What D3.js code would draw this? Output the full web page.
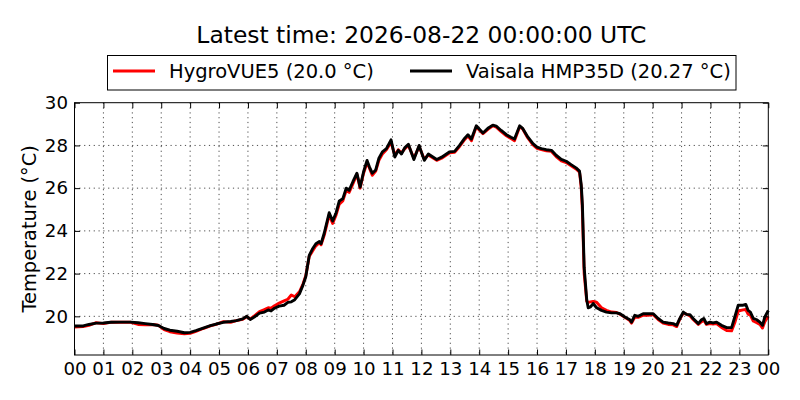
<!DOCTYPE html>
<html>
<head>
<meta charset="utf-8">
<script src="https://cdn.jsdelivr.net/npm/d3@7"></script>
<style>
	body { margin: 0; background: #fff; }
	text { font-family: "DejaVu Sans", sans-serif; fill: #000; }
</style>
</head>
<body>
<div id="chart-area"></div>
<script>

// data: hours since 00 UTC and temperature of each sensor
let hours = [0.00, 0.30, 0.50, 0.75, 1.00, 1.25, 1.60, 1.95, 2.20, 2.45, 2.70, 2.90, 3.10, 3.30, 3.55, 3.80,
	4.00, 4.20, 4.45, 4.70, 4.90, 5.15, 5.40, 5.60, 5.82, 5.96, 6.08, 6.22, 6.40, 6.57, 6.70, 6.80, 6.92,
	7.08, 7.25, 7.38, 7.50, 7.62, 7.78, 7.90, 8.00, 8.12, 8.23, 8.35, 8.47, 8.53, 8.64, 8.81, 8.93, 9.05,
	9.16, 9.28, 9.40, 9.50, 9.63, 9.77, 9.88, 10.00, 10.12, 10.20, 10.30, 10.42, 10.53, 10.65, 10.79, 10.95,
	11.08, 11.20, 11.31, 11.43, 11.55, 11.74, 11.92, 12.10, 12.24, 12.53, 12.70, 12.98, 13.15, 13.32, 13.50,
	13.61, 13.73, 13.90, 14.00, 14.13, 14.30, 14.47, 14.59, 14.76, 14.94, 15.10, 15.22, 15.40, 15.50, 15.68,
	15.86, 16.00, 16.15, 16.32, 16.50, 16.66, 16.84, 17.01, 17.18, 17.35, 17.47, 17.53, 17.57, 17.63, 17.72,
	17.77, 17.85, 17.94, 18.06, 18.23, 18.40, 18.58, 18.75, 18.87, 19.04, 19.21, 19.27, 19.38, 19.50, 19.67,
	19.85, 20.02, 20.19, 20.36, 20.54, 20.71, 20.83, 20.94, 21.06, 21.17, 21.29, 21.40, 21.58, 21.69, 21.77,
	21.86, 21.98, 22.09, 22.21, 22.38, 22.56, 22.73, 22.84, 22.96, 23.13, 23.22, 23.30, 23.38, 23.48, 23.60,
	23.71, 23.80, 23.88, 24.00];

let hygroVUE = [19.50, 19.52, 19.58, 19.70, 19.66, 19.72, 19.72, 19.72, 19.62, 19.60, 19.62, 19.58, 19.38, 19.28, 19.22, 19.18,
	19.20, 19.30, 19.43, 19.55, 19.62, 19.75, 19.72, 19.80, 19.86, 19.98, 19.88, 20.02, 20.22, 20.32, 20.40, 20.38, 20.50,
	20.62, 20.72, 20.80, 21.00, 20.92, 21.15, 21.50, 21.90, 22.80, 23.05, 23.30, 23.45, 23.35, 23.80, 24.75, 24.35, 24.75,
	25.25, 25.40, 25.90, 25.80, 26.20, 26.65, 26.00, 26.70, 27.20, 26.95, 26.60, 26.80, 27.30, 27.60, 27.80, 28.15,
	27.55, 27.80, 27.65, 27.85, 28.00, 27.40, 27.95, 27.35, 27.55, 27.30, 27.40, 27.65, 27.68, 27.95, 28.28,
	28.45, 28.22, 28.88, 28.72, 28.55, 28.75, 28.92, 28.85, 28.65, 28.45, 28.32, 28.22, 28.88, 28.78, 28.35,
	28.02, 27.86, 27.80, 27.75, 27.72, 27.48, 27.28, 27.20, 27.05, 26.90, 26.75, 26.00, 24.90, 22.00, 20.70,
	20.65, 20.68, 20.70, 20.66, 20.40, 20.28, 20.20, 20.18, 20.10, 19.95, 19.80, 19.68, 19.95, 19.95, 20.05,
	20.05, 20.08, 19.85, 19.68, 19.62, 19.60, 19.52, 19.88, 20.15, 20.10, 20.02, 19.85, 19.62, 19.75, 19.82,
	19.62, 19.66, 19.64, 19.66, 19.48, 19.34, 19.32, 19.70, 20.25, 20.30, 20.32, 20.10, 20.05, 19.78, 19.70,
	19.62, 19.45, 19.75, 20.00];

let hmp35d = [19.55, 19.55, 19.62, 19.68, 19.69, 19.72, 19.73, 19.73, 19.70, 19.66, 19.62, 19.57, 19.43, 19.35, 19.30, 19.23,
	19.25, 19.33, 19.45, 19.56, 19.64, 19.72, 19.76, 19.80, 19.88, 20.00, 19.85, 19.97, 20.15, 20.20, 20.30, 20.25, 20.38,
	20.48, 20.52, 20.65, 20.68, 20.78, 21.05, 21.45, 21.85, 22.85, 23.15, 23.40, 23.50, 23.40, 23.90, 24.85, 24.46, 24.85,
	25.40, 25.50, 26.00, 25.90, 26.30, 26.70, 26.05, 26.77, 27.30, 27.00, 26.70, 26.85, 27.40, 27.70, 27.85, 28.26,
	27.46, 27.77, 27.60, 27.90, 28.05, 27.34, 28.00, 27.30, 27.60, 27.34, 27.45, 27.70, 27.72, 28.00, 28.34,
	28.50, 28.30, 28.92, 28.77, 28.58, 28.80, 28.95, 28.90, 28.70, 28.50, 28.38, 28.30, 28.92, 28.80, 28.40,
	28.08, 27.92, 27.85, 27.80, 27.77, 27.54, 27.35, 27.26, 27.10, 26.95, 26.80, 26.15, 25.20, 22.30, 20.76,
	20.40, 20.44, 20.60, 20.40, 20.28, 20.20, 20.16, 20.16, 20.12, 19.97, 19.84, 19.73, 20.05, 20.00, 20.12,
	20.12, 20.12, 19.90, 19.73, 19.69, 19.66, 19.58, 19.90, 20.20, 20.09, 20.08, 19.90, 19.66, 19.84, 19.90,
	19.66, 19.73, 19.69, 19.73, 19.58, 19.47, 19.47, 19.97, 20.52, 20.52, 20.56, 20.28, 20.20, 19.90, 19.84,
	19.73, 19.58, 19.97, 20.27];

let seriesNames = ["HygroVUE5 (20.0 °C)", "Vaisala HMP35D (20.27 °C)"];
let seriesColors = ["#ff0000", "#000000"];
let yTicks = [20, 22, 24, 26, 28, 30];
let xTickLabels = ["00", "01", "02", "03", "04", "05", "06", "07", "08", "09", "10", "11",
	"12", "13", "14", "15", "16", "17", "18", "19", "20", "21", "22", "23", "00"];
let titleText = "Latest time: 2026-08-22 00:00:00 UTC";

let margin = {top: 102.7, right: 31.7, bottom: 45, left: 74.5};
let width = 800 - margin.left - margin.right;
let height = 400 - margin.top - margin.bottom;

let root = d3.select("#chart-area").append("svg")
	.attr("width", 800)
	.attr("height", 400);

let svg = root.append("g")
	.attr("transform", "translate(" + margin.left + "," + margin.top + ")");

// Scales
let x = d3.scaleLinear()
	.domain([0, 24])
	.range([0, width]);

let y = d3.scaleLinear()
	.domain([18.19, 30])
	.range([height, 0]);

let xTicks = d3.range(0, 25);

// dotted grid
svg.append("g").selectAll("line.vgrid")
	.data(xTicks.slice(1, -1))
	.enter().append("line")
	.attr("x1", d => x(d)).attr("x2", d => x(d))
	.attr("y1", 0).attr("y2", height)
	.attr("stroke", "#000").attr("stroke-width", 0.7)
	.attr("stroke-dasharray", "1.2,3.6");

svg.append("g").selectAll("line.hgrid")
	.data(yTicks.filter(d => d < 30))
	.enter().append("line")
	.attr("x1", 0).attr("x2", width)
	.attr("y1", d => y(d)).attr("y2", d => y(d))
	.attr("stroke", "#000").attr("stroke-width", 0.7)
	.attr("stroke-dasharray", "1.2,3.6");

// lines
let line = d3.line()
	.x((d, i) => x(hours[i]))
	.y(d => y(d))
	.curve(d3.curveLinear);

[hygroVUE, hmp35d].forEach((s, i) => {
	svg.append("path")
		.datum(s)
		.attr("fill", "none")
		.attr("stroke", seriesColors[i])
		.attr("stroke-width", 2.9)
		.attr("stroke-linejoin", "round")
		.attr("d", line);
});

// axes (classic style, inward ticks on all sides)
let xAxis = d3.axisBottom(x)
	.tickValues(xTicks)
	.tickSizeInner(-5.5).tickSizeOuter(0)
	.tickPadding(7)
	.tickFormat((d, i) => xTickLabels[i]);

let xAxisG = svg.append("g")
	.attr("class", "x-axis axis")
	.attr("transform", "translate(0," + height + ")")
	.call(xAxis);

let yAxis = d3.axisLeft(y)
	.tickValues(yTicks)
	.tickSizeInner(-5.5).tickSizeOuter(0)
	.tickPadding(6.5)
	.tickFormat(d3.format("d"));

let yAxisG = svg.append("g")
	.attr("class", "y-axis axis")
	.call(yAxis);

svg.append("g")
	.call(d3.axisTop(x).tickValues(xTicks).tickSizeInner(-5.5).tickSizeOuter(0).tickFormat(""));
svg.append("g")
	.attr("transform", "translate(" + width + ",0)")
	.call(d3.axisRight(y).tickValues(yTicks).tickSizeInner(-5.5).tickSizeOuter(0).tickFormat(""));

svg.selectAll(".domain").remove();
svg.selectAll(".tick line").attr("stroke", "#000").attr("stroke-width", 1);
svg.selectAll(".tick text")
	.style("font-size", "18.2px")
	.style("font-family", "'DejaVu Sans', sans-serif")
	.attr("fill", "#000");
xAxisG.selectAll(".tick text").attr("dy", "0.71em");

// frame
svg.append("rect")
	.attr("width", width).attr("height", height)
	.attr("fill", "none").attr("stroke", "#000").attr("stroke-width", 1);

// y label
root.append("text")
	.attr("transform", "translate(36," + (margin.top + height / 2) + ") rotate(-90)")
	.attr("text-anchor", "middle")
	.style("font-size", "19.4px")
	.text("Temperature (°C)");

// title
root.append("text")
	.attr("x", margin.left + width / 2)
	.attr("y", 42.5)
	.attr("text-anchor", "middle")
	.style("font-size", "23.4px")
	.text(titleText);

// legend
let legend = root.append("g");
legend.append("rect")
	.attr("x", 107.5).attr("y", 55.5)
	.attr("width", 628.5).attr("height", 34.5)
	.attr("fill", "#fff").attr("stroke", "#000").attr("stroke-width", 1);

let legendX = [113, 410];
seriesNames.forEach((name, i) => {
	legend.append("line")
		.attr("x1", legendX[i]).attr("x2", legendX[i] + 42)
		.attr("y1", 71).attr("y2", 71)
		.attr("stroke", seriesColors[i]).attr("stroke-width", 2.9);
	legend.append("text")
		.attr("x", legendX[i] + 56)
		.attr("y", 77.5)
		.style("font-size", "19.5px")
		.text(name);
});

</script>
</body>
</html>
